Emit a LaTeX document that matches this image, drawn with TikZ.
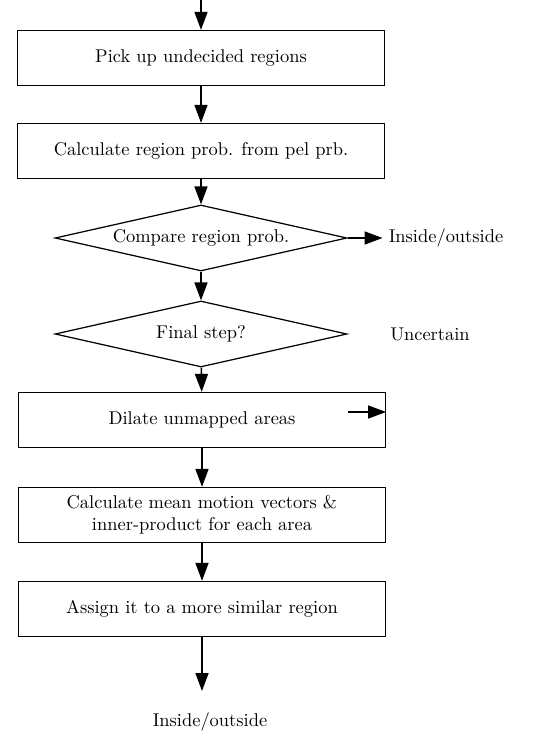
\documentclass[tikz,border=0pt]{standalone}
\usetikzlibrary{shapes.geometric,arrows.meta}
\begin{document}
\begin{tikzpicture}[x=0.02cm,y=-0.02cm,
  box/.style={draw,line width=0.7pt,minimum width=7.34cm,minimum height=1.1cm,align=center,inner sep=2pt},
  dec/.style={draw,line width=0.7pt,diamond,aspect=4.4,minimum width=5.84cm,minimum height=1.32cm,inner sep=0pt},
  arr/.style={line width=0.9pt,-{Triangle[width=0.26cm,length=0.36cm]}},
  font=\fontsize{10.5}{12.5}\selectfont]
\useasboundingbox (0,0) rectangle (556,736);
%
\coordinate (in) at (201,0);
\node[box] (pick) at (201,58) {Pick up undecided regions};
\node[box] (calc) at (201,151) {Calculate region prob. from pel prb.};
\node[dec] (comp) at (201,238) {Compare region prob.};
\node[dec] (final) at (201,334) {Final step?};
\node[box] (dil) at (202,420) {Dilate unmapped areas};
\node[box] (mean) at (202,515) {Calculate mean motion vectors \&\\ inner-product for each area};
\node[box] (assign) at (202,609) {Assign it to a more similar region};
%
\node (io1) at (446,238) {Inside/outside};
\node (unc) at (430,334) {Uncertain};
\coordinate (end) at (202,691);
\node (io2) at (210,722) {Inside/outside};
%
\draw[arr] (in) -- (pick);
\draw[arr] (pick) -- (calc);
\draw[arr] (calc) -- (comp);
\draw[arr] (comp) -- (final);
\draw[arr] (final) -- (dil);
\draw[arr] (dil) -- (mean);
\draw[arr] (mean) -- (assign);
\draw[arr] (assign) -- (end);
\draw[arr] (comp) -- (io1);
%
\coordinate (dl) at (348,412);
\draw[arr] (dl) -- (dl -| dil.east);
\end{tikzpicture}
\end{document}
